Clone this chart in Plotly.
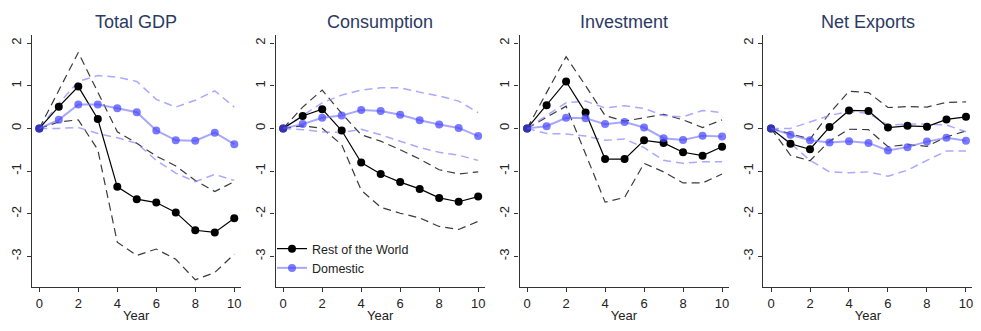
import plotly.graph_objects as go

years = list(range(11))
panel_titles = ["Total GDP", "Consumption", "Investment", "Net Exports"]
series_names = ["Rest of the World", "Domestic"]
y_ticks = [2, 1, 0, -1, -2, -3]
x_ticks = [0, 2, 4, 6, 8, 10]

# Total GDP
gdp_row = [0, 0.51, 0.98, 0.22, -1.37, -1.66, -1.74, -1.97, -2.39, -2.44, -2.11]
gdp_row_hi = [0, 0.90, 1.78, 0.85, -0.08, -0.35, -0.65, -0.88, -1.22, -1.48, -1.25]
gdp_row_lo = [0, 0.15, 0.20, -0.50, -2.67, -2.98, -2.83, -3.07, -3.55, -3.38, -2.95]
gdp_dom = [0, 0.20, 0.56, 0.56, 0.47, 0.38, -0.05, -0.28, -0.29, -0.10, -0.37]
gdp_dom_hi = [0, 0.58, 1.10, 1.24, 1.20, 1.10, 0.68, 0.50, 0.66, 0.88, 0.50]
gdp_dom_lo = [0, 0.00, 0.02, -0.12, -0.22, -0.35, -0.75, -1.05, -1.25, -1.08, -1.22]

# Consumption
con_row = [0, 0.29, 0.45, -0.05, -0.80, -1.07, -1.26, -1.42, -1.63, -1.72, -1.60]
con_row_hi = [0, 0.50, 0.90, 0.35, -0.15, -0.30, -0.50, -0.72, -0.97, -1.07, -1.02]
con_row_lo = [0, 0.06, 0.00, -0.38, -1.45, -1.85, -1.99, -2.10, -2.30, -2.37, -2.18]
con_dom = [0, 0.10, 0.25, 0.30, 0.43, 0.41, 0.32, 0.19, 0.09, 0.01, -0.18]
con_dom_hi = [0, 0.30, 0.60, 0.78, 0.90, 0.95, 0.95, 0.85, 0.76, 0.64, 0.37]
con_dom_lo = [0, -0.03, -0.08, -0.10, -0.02, -0.15, -0.30, -0.45, -0.56, -0.63, -0.75]

# Investment
inv_row = [0, 0.54, 1.10, 0.37, -0.72, -0.72, -0.28, -0.34, -0.56, -0.64, -0.43]
inv_row_hi = [0, 0.85, 1.68, 1.00, 0.30, 0.17, 0.25, 0.33, 0.20, 0.02, 0.20]
inv_row_lo = [0, 0.25, 0.52, -0.60, -1.73, -1.62, -0.82, -1.02, -1.28, -1.28, -1.07]
inv_dom = [0, 0.05, 0.25, 0.24, 0.10, 0.15, 0.02, -0.23, -0.27, -0.17, -0.19]
inv_dom_hi = [0, 0.30, 0.60, 0.64, 0.48, 0.53, 0.47, 0.30, 0.27, 0.42, 0.37]
inv_dom_lo = [0, -0.12, -0.13, -0.18, -0.28, -0.25, -0.45, -0.75, -0.82, -0.78, -0.78]

# Net Exports
nx_row = [0, -0.36, -0.49, 0.03, 0.42, 0.41, 0.02, 0.06, 0.04, 0.21, 0.27]
nx_row_hi = [0, -0.12, -0.25, 0.35, 0.87, 0.84, 0.49, 0.51, 0.50, 0.61, 0.62]
nx_row_lo = [0, -0.63, -0.76, -0.30, -0.02, -0.03, -0.43, -0.38, -0.42, -0.20, -0.06]
nx_dom = [0, -0.15, -0.28, -0.33, -0.30, -0.34, -0.52, -0.44, -0.31, -0.22, -0.29]
nx_dom_hi = [0, 0.00, 0.15, 0.30, 0.40, 0.35, 0.08, 0.10, 0.10, 0.08, -0.08]
nx_dom_lo = [0, -0.35, -0.75, -1.02, -1.04, -1.02, -1.12, -0.98, -0.75, -0.53, -0.53]

panels = [
    (gdp_row, gdp_row_hi, gdp_row_lo, gdp_dom, gdp_dom_hi, gdp_dom_lo),
    (con_row, con_row_hi, con_row_lo, con_dom, con_dom_hi, con_dom_lo),
    (inv_row, inv_row_hi, inv_row_lo, inv_dom, inv_dom_hi, inv_dom_lo),
    (nx_row, nx_row_hi, nx_row_lo, nx_dom, nx_dom_hi, nx_dom_lo),
]

# page body has an 8px default margin; figure fills the remaining area
OFF = 8
W, H = 981 - 2 * OFF, 331 - 2 * OFF
FONT = "Liberation Sans, Arial, sans-serif"
AXIS_COLOR = "#333333"
BLACK_DASH = "#3a3a3a"
BLUE_DASH = "rgba(140,140,255,0.75)"
BLUE_LINE = "rgba(120,120,255,0.65)"
BLUE_MARK = "rgba(70,70,255,0.72)"


def px(xs):
    return (xs - OFF) / W


def py(ys):
    return (H - (ys - OFF)) / H


fig = go.Figure()
layout_axes = {}
annotations = []

for i, (row, row_hi, row_lo, dom, dom_hi, dom_lo) in enumerate(panels):
    n = "" if i == 0 else str(i + 1)
    xa, ya = "x" + n, "y" + n
    for band in (row_hi, row_lo):
        fig.add_trace(go.Scatter(x=years, y=band, mode="lines", xaxis=xa, yaxis=ya,
                                 line=dict(color=BLACK_DASH, width=1.2, dash="8px,5px"),
                                 showlegend=False, hoverinfo="skip"))
    for band in (dom_hi, dom_lo):
        fig.add_trace(go.Scatter(x=years, y=band, mode="lines", xaxis=xa, yaxis=ya,
                                 line=dict(color=BLUE_DASH, width=1.5, dash="8px,5px"),
                                 showlegend=False, hoverinfo="skip"))
    fig.add_trace(go.Scatter(x=years, y=row, mode="lines+markers", xaxis=xa, yaxis=ya,
                             name=series_names[0], showlegend=(i == 1), legendrank=1,
                             line=dict(color="black", width=1.2),
                             marker=dict(color="black", size=8)))
    fig.add_trace(go.Scatter(x=years, y=dom, mode="lines+markers", xaxis=xa, yaxis=ya,
                             name=series_names[1], showlegend=(i == 1), legendrank=2,
                             line=dict(color=BLUE_LINE, width=2),
                             marker=dict(color=BLUE_MARK, size=8)))

    x0 = 31.7 + 243.9 * i
    x1 = x0 + 209
    layout_axes["xaxis" + n] = dict(
        domain=[px(x0), px(x1)], range=[-0.39, 10.33], anchor=ya, tickvals=x_ticks,
        ticks="outside", ticklen=4, tickwidth=1, tickcolor=AXIS_COLOR,
        showline=True, linecolor=AXIS_COLOR, linewidth=1.3, showgrid=False, zeroline=False,
        ticklabeloverflow="allow",
        tickfont=dict(size=13, color="#222", family=FONT),
        title=dict(text="Year", font=dict(size=13, color="#222", family=FONT), standoff=2),
    )
    layout_axes["yaxis" + n] = dict(
        domain=[py(287), py(35)], range=[-3.72, 2.19], anchor=xa, tickvals=y_ticks,
        ticktext=[str(t) for t in y_ticks], tickangle=-90,
        ticks="outside", ticklen=4, tickwidth=1, tickcolor=AXIS_COLOR,
        showline=True, linecolor=AXIS_COLOR, linewidth=1.3, showgrid=False, zeroline=False,
        tickfont=dict(size=13, color="#222", family=FONT),
    )
    annotations.append(dict(text=panel_titles[i], x=px((x0 + x1) / 2), y=py(22),
                            xref="paper", yref="paper", showarrow=False,
                            xanchor="center", yanchor="middle",
                            font=dict(size=18, color="#2b3a63", family=FONT)))

fig.update_layout(
    width=W, height=H,
    margin=dict(l=0, r=0, t=0, b=0),
    paper_bgcolor="white", plot_bgcolor="white",
    font=dict(family=FONT),
    annotations=annotations,
    showlegend=True,
    legend=dict(x=px(272), y=py(234), xanchor="left", yanchor="top",
                bgcolor="rgba(0,0,0,0)", itemwidth=30, tracegroupgap=0,
                font=dict(size=12.5, color="#222", family=FONT)),
    **layout_axes,
)

fig.write_html("out.html")
